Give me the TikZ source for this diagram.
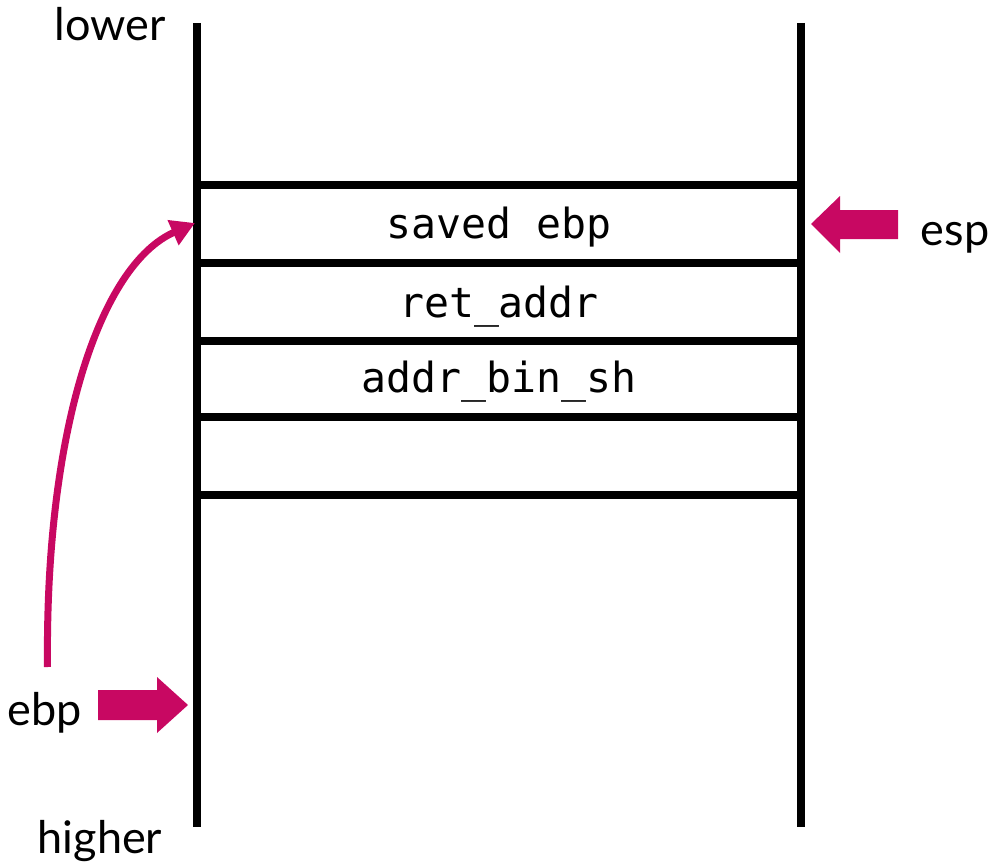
\documentclass[tikz,border=0pt]{standalone}
\usepackage{fontspec}
\setmainfont{Lato}
\newfontfamily\monofnt{DejaVu Sans Mono}
\usetikzlibrary{arrows.meta}
\definecolor{mag}{RGB}{200,8,98}
\begin{document}
\begin{tikzpicture}[x=1pt,y=-1pt,
  wall/.style={line width=8pt,black},
  lbl/.style={font=\fontsize{45}{50}\selectfont,inner sep=0pt,anchor=base},
  slot/.style={font=\monofnt\fontsize{41.5}{46}\selectfont,inner sep=0pt,anchor=base},
  blockarrow/.style={fill=mag,draw=none}]
\useasboundingbox (0,0) rectangle (999,864);
% walls
\coordinate (lt) at (197,23);
\coordinate (lb) at (197,827);
\coordinate (rt) at (801,23);
\coordinate (rb) at (801,827);
\draw[wall] (lt) -- (lb);
\draw[wall] (rt) -- (rb);
% slot separators
\foreach \y/\n in {185/a,263/b,340.5/c,417/d,495/e}{
  \coordinate (L\n) at (197,\y);
  \coordinate (R\n) at (801,\y);
  \draw[wall] (L\n) -- (R\n);
}
% slot texts
\node[slot] (s1) at (499,238) {saved ebp};
\node[slot] (s2) at (499,317) {ret\_addr};
\node[slot] (s3) at (499,392) {addr\_bin\_sh};
% labels
\node[lbl] (lower) at (110,41) {lower};
\node[lbl] (higher) at (100,853) {higher};
\node[lbl] (esp) at (955,245) {esp};
\node[lbl] (ebp) at (45,725) {ebp};
% esp block arrow
\fill[blockarrow] (898,210) -- (840,210) -- (840,196) -- (811,224) -- (840,253) -- (840,239) -- (898,239) -- cycle;
% ebp block arrow
\fill[blockarrow] (98,690) -- (157,690) -- (157,677) -- (188,705) -- (157,733) -- (157,720) -- (98,720) -- cycle;
% curved arrow
\coordinate (cs) at (47.5,667);
\coordinate (ce) at (195,223);
\draw[mag,line width=7pt,-{Triangle[length=24pt,width=26pt]}] (cs) .. controls (45,430) and (100,265) .. (ce);
\end{tikzpicture}
\end{document}
